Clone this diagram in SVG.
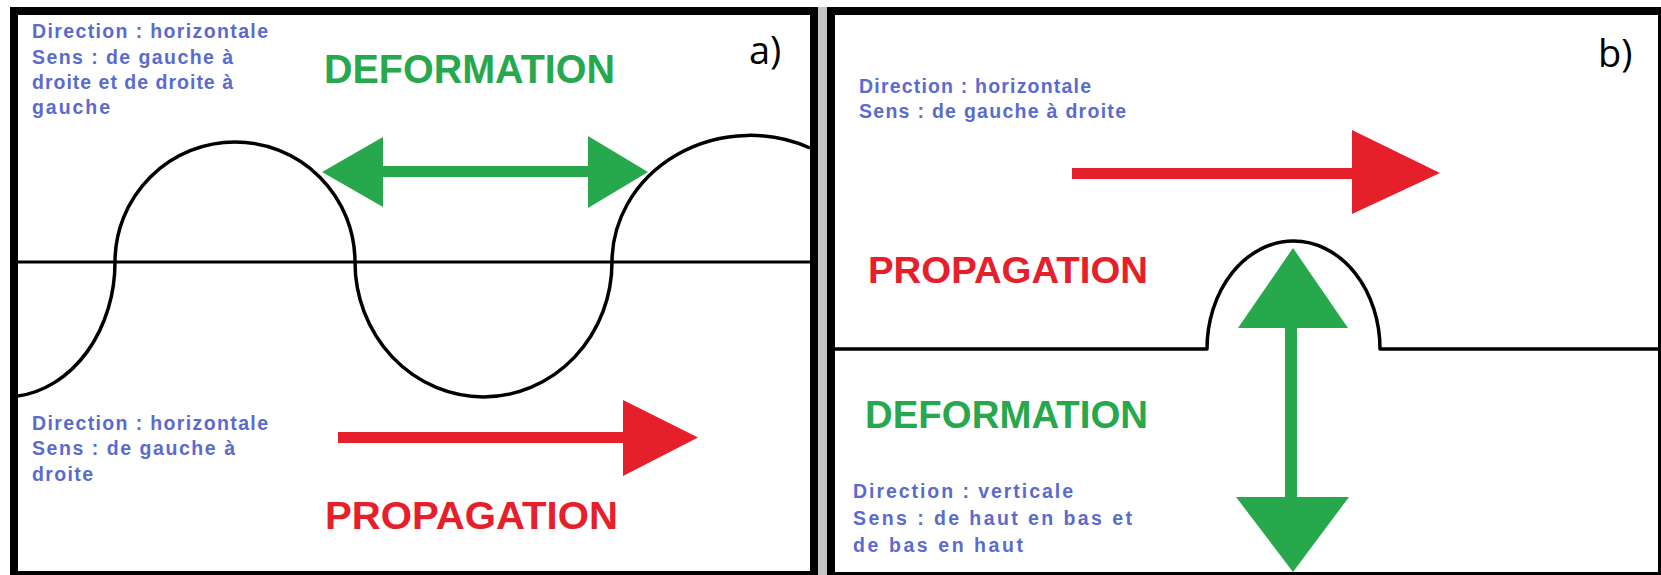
<svg xmlns="http://www.w3.org/2000/svg" width="1661" height="575" viewBox="0 0 1661 575">
  <style>
    .frame { fill: #000; }
    .inner { fill: #fff; }
    .line { fill: none; stroke: #000; stroke-width: 3.5; stroke-linejoin: round; }
    .axis { fill: none; stroke: #000; stroke-width: 3; }
    .info { font-family: "Liberation Sans", Arial, sans-serif; font-weight: bold; font-size: 19.5px; fill: #5a6bcd; }
    .big { font-family: "Liberation Sans", Arial, sans-serif; font-weight: bold; }
    .green { fill: #27a84c; }
    .red { fill: #e5202a; }
    .tag { font-family: "Open Sans", "Liberation Sans", sans-serif; font-size: 38px; fill: #000; }
  </style>
  <rect x="0" y="0" width="1661" height="575" fill="#fff"/>
  <rect x="818" y="7" width="9" height="568" fill="#c4c4c4"/>

  <g id="panel-a">
    <rect class="frame" x="10" y="7" width="808" height="568"/>
    <rect class="inner" x="18" y="15" width="792" height="556"/>
    <line class="axis" x1="18" y1="262" x2="810" y2="262"/>
    <path class="line" d="M18,396 A110,135 0 0 0 115,262 A120,120 0 0 1 355,262 A128.5,135 0 0 0 612,262 A138,127 0 0 1 810,148"/>
    <text class="tag" x="749" y="64">a)</text>
    <g id="a-deformation-info">
      <text class="info" x="32" y="38" textLength="236">Direction : horizontale</text>
      <text class="info" x="32" y="63.5" textLength="201">Sens : de gauche à</text>
      <text class="info" x="32" y="88.5" textLength="201">droite et de droite à</text>
      <text class="info" x="32" y="113.5" textLength="78">gauche</text>
    </g>
    <text id="a-deformation-label" class="big green" x="324" y="83" font-size="41" textLength="291" lengthAdjust="spacingAndGlyphs">DEFORMATION</text>
    <g id="a-propagation-info">
      <text class="info" x="32" y="430" textLength="236">Direction : horizontale</text>
      <text class="info" x="32" y="455" textLength="203">Sens : de gauche à</text>
      <text class="info" x="32" y="481" textLength="61">droite</text>
    </g>
    <text id="a-propagation-label" class="big red" x="325" y="529" font-size="39" textLength="293" lengthAdjust="spacingAndGlyphs">PROPAGATION</text>
  </g>

  <g id="panel-b">
    <rect class="frame" x="827" y="7" width="834" height="568"/>
    <rect class="inner" x="835" y="15" width="823" height="557"/>
    <path class="line" d="M835,349 H1207 A86.5,108 0 0 1 1380,349 H1658"/>
    <text class="tag" x="1598" y="67">b)</text>
    <g id="b-propagation-info">
      <text class="info" x="859" y="93" textLength="232">Direction : horizontale</text>
      <text class="info" x="859" y="118" textLength="267">Sens : de gauche à droite</text>
    </g>
    <text id="b-propagation-label" class="big red" x="868" y="283" font-size="37" textLength="280" lengthAdjust="spacingAndGlyphs">PROPAGATION</text>
    <text id="b-deformation-label" class="big green" x="865" y="428" font-size="39" textLength="283" lengthAdjust="spacingAndGlyphs">DEFORMATION</text>
    <g id="b-deformation-info">
      <text class="info" x="853" y="498" textLength="220">Direction : verticale</text>
      <text class="info" x="853" y="525" textLength="279">Sens : de haut en bas et</text>
      <text class="info" x="853" y="552" textLength="170">de bas en haut</text>
    </g>
  </g>

  <g id="connectors">
    <polygon id="a-deformation-arrow" class="green" points="322,172 383,137 383,166 588,166 588,136 648,172 588,208 588,177 383,177 383,207"/>
    <polygon id="a-propagation-arrow" class="red" points="338,432 623,432 623,400 698,437.5 623,476 623,443 338,443"/>
    <polygon id="b-propagation-arrow" class="red" points="1072,168 1352,168 1352,130 1440,173 1352,214 1352,179 1072,179"/>
    <polygon id="b-deformation-arrow" class="green" points="1293,248 1348,328 1297,328 1297,497 1349,497 1293,572 1236,497 1285,497 1285,328 1238,328"/>
  </g>
</svg>
